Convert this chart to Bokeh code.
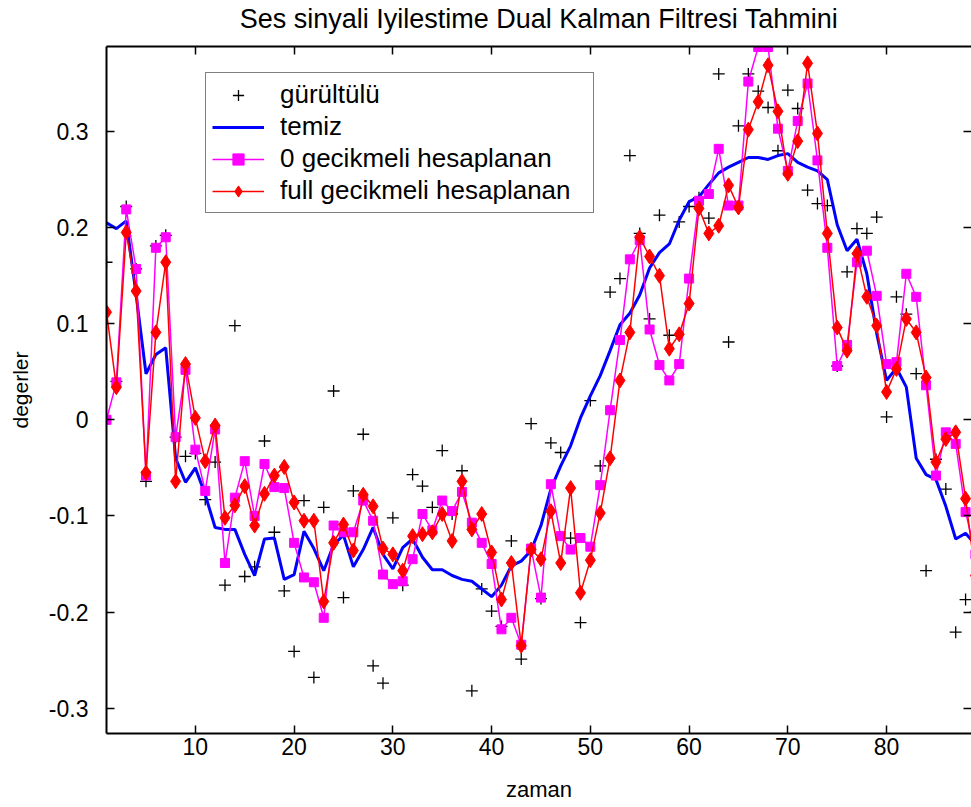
from bokeh.plotting import figure
from bokeh.models import (Range1d, LinearAxis, FixedTicker, CustomJSTickFormatter,
                          Legend, LegendItem)
from bokeh.embed import file_html
from bokeh.resources import INLINE

zaman = list(range(1, 90))

gurultulu = [0.164, 0.040, 0.222, 0.157, -0.064, 0.181, 0.192, -0.018, -0.038, -0.035,
             -0.083, -0.044, -0.172, 0.098, -0.163, -0.153, -0.022, -0.117, -0.178, -0.241,
             -0.084, -0.268, -0.091, 0.030, -0.185, -0.074, -0.015, -0.256, -0.274, -0.102,
             -0.172, -0.057, -0.069, -0.091, -0.032, -0.098, -0.053, -0.282, -0.176, -0.199,
             -0.215, -0.126, -0.249, -0.004, -0.186, -0.024, -0.034, -0.123, -0.211, 0.020,
             -0.048, 0.133, 0.147, 0.275, 0.194, 0.105, 0.213, 0.088, 0.206, 0.222,
             0.231, 0.210, 0.360, 0.081, 0.306, 0.360, 0.342, 0.325, 0.280, 0.343,
             0.324, 0.239, 0.225, 0.223, 0.056, 0.154, 0.199, 0.194, 0.211, 0.003,
             0.128, 0.110, 0.048, -0.157, -0.041, -0.072, -0.221, -0.187, -0.200]

temiz = [0.205, 0.199, 0.207, 0.130, 0.048, 0.068, 0.075, -0.040, -0.065, -0.050,
         -0.078, -0.112, -0.114, -0.114, -0.140, -0.162, -0.124, -0.123, -0.166, -0.161,
         -0.116, -0.134, -0.157, -0.130, -0.120, -0.153, -0.135, -0.112, -0.140, -0.155,
         -0.133, -0.124, -0.143, -0.156, -0.156, -0.162, -0.166, -0.168, -0.176, -0.184,
         -0.172, -0.152, -0.147, -0.136, -0.110, -0.072, -0.048, -0.027, 0.002, 0.025,
         0.046, 0.072, 0.099, 0.111, 0.130, 0.158, 0.174, 0.183, 0.208, 0.227,
         0.232, 0.245, 0.257, 0.263, 0.268, 0.273, 0.273, 0.271, 0.275, 0.277,
         0.268, 0.263, 0.259, 0.250, 0.203, 0.176, 0.188, 0.152, 0.090, 0.041,
         0.054, 0.034, -0.040, -0.057, -0.062, -0.090, -0.124, -0.118, -0.130]

gecikme_0 = [0.000, 0.039, 0.219, 0.157, -0.058, 0.179, 0.190, -0.018, 0.052, -0.031,
             -0.074, -0.010, -0.149, -0.081, -0.043, -0.100, -0.046, -0.070, -0.071, -0.128,
             -0.164, -0.169, -0.206, -0.110, -0.117, -0.117, -0.084, -0.105, -0.161, -0.171,
             -0.168, -0.145, -0.098, -0.115, -0.084, -0.095, -0.075, -0.107, -0.128, -0.150,
             -0.218, -0.206, -0.234, -0.134, -0.185, -0.067, -0.121, -0.135, -0.123, -0.132,
             -0.068, 0.010, 0.083, 0.167, 0.187, 0.094, 0.057, 0.041, 0.058, 0.147,
             0.228, 0.235, 0.282, 0.223, 0.223, 0.352, 0.388, 0.388, 0.303, 0.259,
             0.311, 0.350, 0.270, 0.179, 0.056, 0.078, 0.164, 0.176, 0.129, 0.058,
             0.060, 0.152, 0.128, 0.036, -0.058, -0.013, -0.025, -0.096, -0.140]

gecikme_full = [0.112, 0.034, 0.195, 0.134, -0.055, 0.091, 0.164, -0.064, 0.058, 0.002,
                -0.043, -0.006, -0.102, -0.089, -0.069, -0.110, -0.077, -0.058, -0.049, -0.086,
                -0.105, -0.105, -0.189, -0.128, -0.109, -0.136, -0.078, -0.090, -0.134, -0.140,
                -0.157, -0.121, -0.119, -0.117, -0.098, -0.126, -0.064, -0.114, -0.098, -0.138,
                -0.187, -0.149, -0.235, -0.135, -0.145, -0.095, -0.149, -0.071, -0.180, -0.146,
                -0.097, -0.040, 0.041, 0.091, 0.190, 0.170, 0.150, 0.074, 0.089, 0.121,
                0.220, 0.194, 0.202, 0.244, 0.221, 0.302, 0.331, 0.369, 0.321, 0.256,
                0.290, 0.371, 0.298, 0.194, 0.096, 0.072, 0.173, 0.128, 0.098, 0.029,
                0.053, 0.105, 0.091, 0.044, -0.044, -0.020, -0.013, -0.082, -0.162]

x_ticks = [10, 20, 30, 40, 50, 60, 70, 80]
y_ticks = [-0.3, -0.2, -0.1, 0, 0.1, 0.2, 0.3]
y_tick_labels = ["-0.3", "-0.2", "-0.1", "0", "0.1", "0.2", "0.3"]

legend_labels = ["gürültülü", "temiz", "0 gecikmeli hesaplanan", "full gecikmeli hesaplanan"]
title_text = "Ses sinyali Iyilestime Dual Kalman Filtresi Tahmini"
x_label = "zaman"
y_label = "degerler"

FONT = "Liberation Sans"

p = figure(width=971, height=807, output_backend="svg", toolbar_location=None,
           x_range=Range1d(1, 88.6), y_range=Range1d(-0.3264, 0.3885),
           min_border_left=106, min_border_top=46, min_border_bottom=74,
           min_border_right=0, x_axis_label=x_label, y_axis_label=y_label)

p.background_fill_color = "white"
p.border_fill_color = "white"
p.outline_line_color = None
p.xgrid.visible = False
p.ygrid.visible = False

xa = p.xaxis[0]
xa.ticker = FixedTicker(ticks=x_ticks)
ya = p.yaxis[0]
ya.ticker = FixedTicker(ticks=y_ticks)
ya.major_label_overrides = dict(zip(y_ticks, y_tick_labels))

for ax in (xa, ya):
    ax.major_tick_in = 8
    ax.major_tick_out = 0
    ax.minor_tick_line_color = None
    ax.axis_line_width = 2
    ax.axis_line_color = "black"
    ax.major_tick_line_width = 1.5
    ax.major_label_text_font = FONT
    ax.major_label_text_font_size = "23px"
    ax.major_label_text_color = "black"
    ax.axis_label_text_font = FONT
    ax.axis_label_text_font_style = "normal"
    ax.axis_label_text_color = "black"

xa.major_label_standoff = 4
xa.axis_label_text_font_size = "22px"
xa.axis_label_standoff = 19
ya.major_label_standoff = 18
ya.axis_label_text_font_size = "21px"
ya.axis_label_standoff = 14

# top box edge carries the chart title as its label
empty = CustomJSTickFormatter(code="return ''")
top = LinearAxis(ticker=FixedTicker(ticks=x_ticks), formatter=empty,
                 major_tick_in=8, major_tick_out=0, minor_tick_line_color=None,
                 axis_line_width=2, axis_line_color="black", major_tick_line_width=1.5,
                 major_label_standoff=0, major_label_text_font_size="1px",
                 axis_label=title_text, axis_label_standoff=13,
                 axis_label_text_font=FONT, axis_label_text_font_size="27px",
                 axis_label_text_font_style="normal", axis_label_text_color="black")
p.add_layout(top, "above")
right = LinearAxis(ticker=FixedTicker(ticks=y_ticks), formatter=empty,
                   major_tick_in=8, major_tick_out=0, minor_tick_line_color=None,
                   axis_line_color=None, major_tick_line_width=1.5,
                   major_label_standoff=0, major_label_text_font_size="1px")
p.add_layout(right, "right")

r_noise = p.scatter(zaman, gurultulu, marker="cross", size=12, line_color="black",
                    line_width=1.3)
r_clean = p.line(zaman, temiz, line_color="#0000FF", line_width=3)
r_m_line = p.line(zaman, gecikme_0, line_color="#FF00FF", line_width=1.5)
r_m_pts = p.scatter(zaman, gecikme_0, marker="square", size=9, fill_color="#FF00FF",
                    line_color="#FF00FF")
r_r_line = p.line(zaman, gecikme_full, line_color="#FF0000", line_width=1.5)
r_r_pts = p.scatter(zaman, gecikme_full, marker="diamond", size=15, fill_color="#FF0000",
                    line_color="#FF0000")

legend = Legend(items=[
    LegendItem(label=legend_labels[0], renderers=[r_noise]),
    LegendItem(label=legend_labels[1], renderers=[r_clean]),
    LegendItem(label=legend_labels[2], renderers=[r_m_line, r_m_pts]),
    LegendItem(label=legend_labels[3], renderers=[r_r_line, r_r_pts]),
])
legend.location = (99, 520)
legend.margin = 0
legend.padding = 6
legend.spacing = 1
legend.glyph_width = 52
legend.glyph_height = 28
legend.label_height = 28
legend.label_width = 307
legend.label_standoff = 16
legend.label_text_font = FONT
legend.label_text_font_size = "26px"
legend.label_text_color = "black"
legend.border_line_color = "black"
legend.border_line_width = 1.5
legend.background_fill_color = "white"
legend.background_fill_alpha = 1.0
p.add_layout(legend, "center")

open("out.html", "w").write(file_html(p, INLINE))
